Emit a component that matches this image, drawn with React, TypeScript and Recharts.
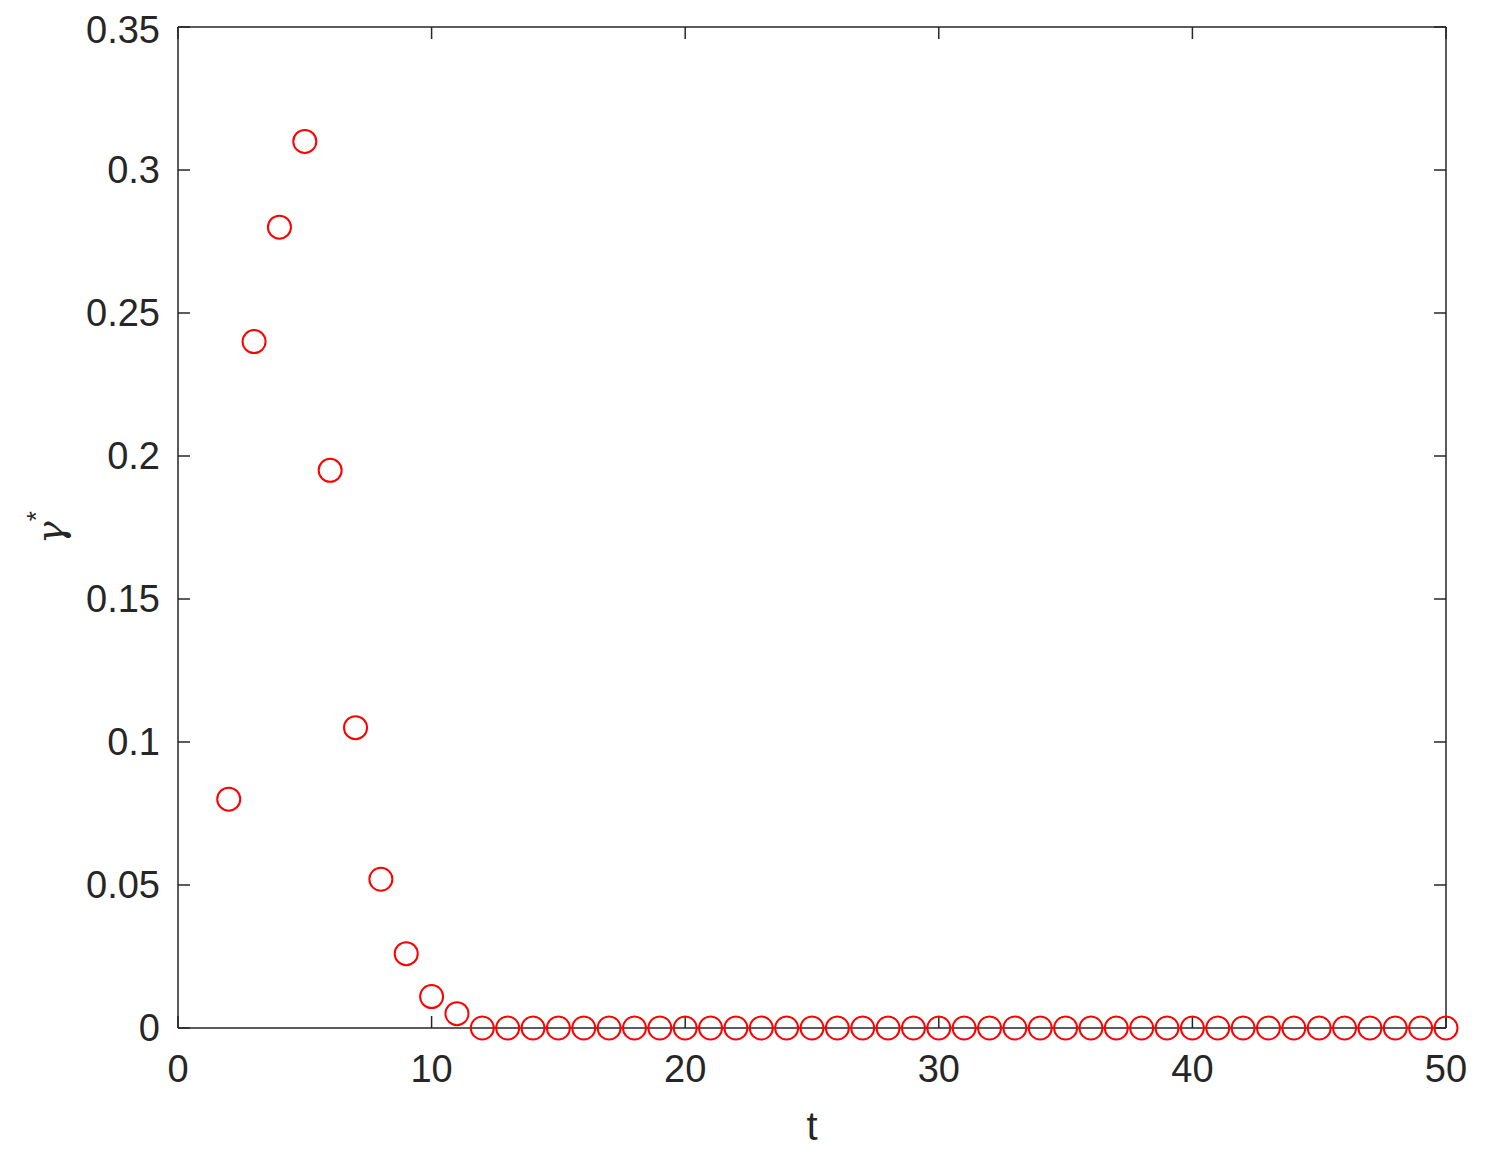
import React from 'react';
import { ScatterChart, Scatter, XAxis, YAxis, Label } from 'recharts';

const tValues = [2,3,4,5,6,7,8,9,10,11,12,13,14,15,16,17,18,19,20,21,22,23,24,25,26,27,28,29,30,31,32,33,34,35,36,37,38,39,40,41,42,43,44,45,46,47,48,49,50];
const gammaValues = [0.080,0.240,0.280,0.310,0.195,0.105,0.052,0.026,0.011,0.005,0,0,0,0,0,0,0,0,0,0,0,0,0,0,0,0,0,0,0,0,0,0,0,0,0,0,0,0,0,0,0,0,0,0,0,0,0,0,0];
const xTicks = [0, 10, 20, 30, 40, 50];
const yTicks = [0, 0.05, 0.1, 0.15, 0.2, 0.25, 0.3, 0.35];

const data = tValues.map((t, i) => ({ t, g: gammaValues[i] }));

const FONT = '"Liberation Sans", Arial, Helvetica, sans-serif';
const AXIS_COLOR = '#262626';

const Ring = (props: any) => {
  const { cx, cy } = props;
  if (cx == null || cy == null) return <g />;
  return <circle cx={cx} cy={cy} r={11.5} fill="none" stroke="#ff0000" strokeWidth={2} />;
};

const Empty = () => <g />;
const NoTickLabel = () => <g />;

const YLabel = (props: any) => {
  const vb = props.viewBox || {};
  const x = 55;
  const y = (vb.y ?? 0) + (vb.height ?? 0) / 2;
  return (
    <text x={x} y={y} transform={`rotate(-90, ${x}, ${y})`} textAnchor="middle" fontFamily={FONT} fontSize={38} fill={AXIS_COLOR}>
      <tspan fontFamily='"DejaVu Serif", serif' fontStyle="italic">γ</tspan>
      <tspan fontSize={26} dy={-18}>*</tspan>
    </text>
  );
};

const tickStyle = { fontFamily: FONT, fontSize: 38, fill: AXIS_COLOR };

export default function App() {
  return (
    <ScatterChart width={1472} height={1155} margin={{ top: 18, right: 33, bottom: 35, left: 0 }}>
      <XAxis
        xAxisId="b"
        type="number"
        dataKey="t"
        domain={[0, 50]}
        ticks={xTicks}
        orientation="bottom"
        height={100}
        tickSize={-12}
        tickMargin={39}
        stroke={AXIS_COLOR}
        strokeWidth={1.5}
        tick={tickStyle}
      >
        <Label value="t" position="insideBottom" offset={-12} style={{ fontFamily: FONT, fontSize: 40, fill: AXIS_COLOR }} />
      </XAxis>
      <XAxis
        xAxisId="top"
        type="number"
        dataKey="t"
        domain={[0, 50]}
        ticks={xTicks}
        orientation="top"
        height={1}
        tickSize={-12}
        tickMargin={0}
        stroke={AXIS_COLOR}
        strokeWidth={1.5}
        tick={<NoTickLabel />}
      />
      <YAxis
        yAxisId="l"
        type="number"
        dataKey="g"
        domain={[0, 0.35]}
        ticks={yTicks}
        orientation="left"
        width={170}
        tickSize={-12}
        tickMargin={30}
        stroke={AXIS_COLOR}
        strokeWidth={1.5}
        tick={tickStyle}
        tickFormatter={(v: number) => String(Number(v.toFixed(2)))}
      >
        <Label content={<YLabel />} />
      </YAxis>
      <YAxis
        yAxisId="r"
        type="number"
        dataKey="g"
        domain={[0, 0.35]}
        ticks={yTicks}
        orientation="right"
        width={1}
        tickSize={-12}
        tickMargin={0}
        stroke={AXIS_COLOR}
        strokeWidth={1.5}
        tick={<NoTickLabel />}
      />
      <Scatter data={data} xAxisId="top" yAxisId="r" shape={<Empty />} isAnimationActive={false} />
      <Scatter data={data} xAxisId="b" yAxisId="l" shape={<Ring />} isAnimationActive={false} />
    </ScatterChart>
  );
}
